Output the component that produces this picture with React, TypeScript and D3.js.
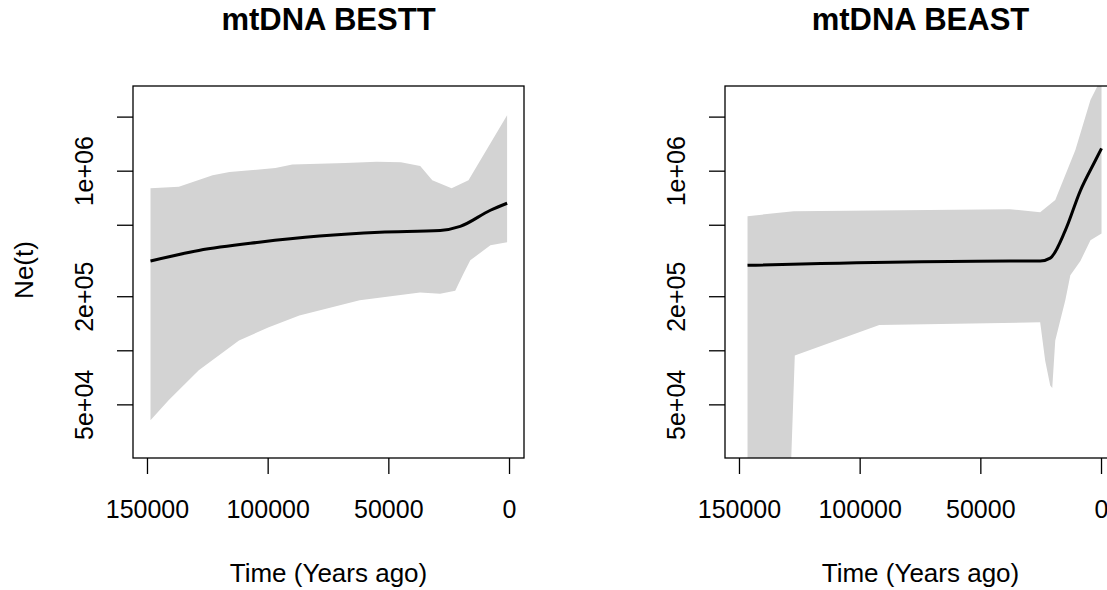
import * as d3 from 'd3'

// left panel (BESTT)
const leftUpT = [148750, 137000, 123000, 116000, 97000, 90000, 68000, 55000, 45000, 37000, 32000, 24000, 17000, 1000]
const leftUpV = [8.04e5, 8.2e5, 9.5e5, 9.9e5, 1.04e6, 1.09e6, 1.11e6, 1.13e6, 1.12e6, 1.07e6, 8.9e5, 8.04e5, 8.9e5, 2.05e6]
const leftLoT = [148750, 141250, 128750, 112083, 100000, 87083, 62083, 37083, 28750, 22500, 19000, 16250, 7917, 1000]
const leftLoV = [4.1e4, 5.3e4, 7.8e4, 1.14e5, 1.35e5, 1.57e5, 1.91e5, 2.11e5, 2.08e5, 2.16e5, 2.7e5, 3.19e5, 3.87e5, 4.02e5]
const leftMedT = [148750, 128750, 103750, 78750, 53750, 28750, 20417, 7917, 1000]
const leftMedV = [3.16e5, 3.62e5, 4.02e5, 4.35e5, 4.57e5, 4.68e5, 4.93e5, 6.06e5, 6.63e5]

// right panel (BEAST)
const rightUpT = [146667, 127500, 37917, 25417, 19167, 10833, 4583, 1667, 0]
const rightUpV = [5.62e5, 5.98e5, 6.14e5, 5.9e5, 6.9e5, 1.31e6, 2.49e6, 2.98e6, 3.5e6]
const rightLoT = [146667, 129583, 127083, 92083, 25417, 23333, 21250, 20417, 19167, 17083, 15000, 12917, 8750, 4583, 0]
const rightLoV = [1e4, 1e4, 9.4e4, 1.39e5, 1.44e5, 8.8e4, 6.4e4, 6.2e4, 1.14e5, 1.48e5, 1.91e5, 2.63e5, 3.16e5, 4.13e5, 4.5e5]
const rightMedT = [146667, 37917, 25417, 21250, 15000, 8750, 2500, 0]
const rightMedV = [2.99e5, 3.16e5, 3.16e5, 3.28e5, 4.68e5, 7.8e5, 1.15e6, 1.34e6]

const xTicks = [150000, 100000, 50000, 0]
const yTicks = [5e4, 1e5, 2e5, 5e5, 1e6, 2e6]
const yLabeled = [5e4, 2e5, 1e6]

const FONT = 'Liberation Sans, Arial, sans-serif'

interface PanelProps {
  title: string
  left: number
  upT: number[]; upV: number[]
  loT: number[]; loV: number[]
  medT: number[]; medV: number[]
  id: string
}

function Panel({ title, left, upT, upV, loT, loV, medT, medV, id }: PanelProps) {
  const top = 86, bottom = 458
  const width = 391
  const x = d3.scaleLinear().domain([156000, -6000]).range([left, left + width])
  const y = d3.scaleLog().domain([2.53e4, 2.98e6]).range([bottom, top])
  const upper = upT.map((t, i) => [x(t), y(upV[i])] as [number, number])
  const lower = loT.map((t, i) => [x(t), y(loV[i])] as [number, number])
  const poly = [...upper, ...lower.slice().reverse()]
  const med = d3.line<number>().x((t) => x(t)).y((_, i) => y(medV[i])).curve(d3.curveMonotoneX)(medT)
  const cx = left + width / 2
  return (
    <g>
      <clipPath id={id}>
        <rect x={left} y={top} width={width} height={bottom - top} />
      </clipPath>
      <text x={cx} y={30} textAnchor="middle" fontWeight="bold" fontSize={31}>{title}</text>
      <g clipPath={`url(#${id})`}>
        <path d={'M' + poly.map((p) => p.join(',')).join('L') + 'Z'} fill="#d3d3d3" />
        <path d={med || ''} fill="none" stroke="#000" strokeWidth={3} />
      </g>
      <rect x={left} y={top} width={width} height={bottom - top} fill="none" stroke="#000" strokeWidth={1.3} />
      {xTicks.map((t) => (
        <g key={t}>
          <line x1={x(t)} x2={x(t)} y1={bottom} y2={bottom + 16} stroke="#000" strokeWidth={1.3} />
          <text x={x(t)} y={518} textAnchor="middle" fontSize={25}>{t}</text>
        </g>
      ))}
      {yTicks.map((v) => (
        <g key={v}>
          <line x1={left} x2={left - 16} y1={y(v)} y2={y(v)} stroke="#000" strokeWidth={1.3} />
          {yLabeled.includes(v) && (
            <text transform={`translate(${left - 40},${y(v)}) rotate(-90)`} textAnchor="middle" fontSize={25}>
              {v.toExponential(0).replace(/e\+(\d)$/, 'e+0$1')}
            </text>
          )}
        </g>
      ))}
      <text x={cx} y={582} textAnchor="middle" fontSize={26}>Time (Years ago)</text>
    </g>
  )
}

export default function App() {
  return (
    <svg width={1107} height={590} style={{ position: 'absolute', left: 0, top: 0, background: '#fff' }} fontFamily={FONT}>
      <rect width={1107} height={590} fill="#fff" />
      <text transform="translate(33,270) rotate(-90)" textAnchor="middle" fontSize={26}>Ne(t)</text>
      <Panel id="c1" title="mtDNA BESTT" left={133} upT={leftUpT} upV={leftUpV} loT={leftLoT} loV={leftLoV} medT={leftMedT} medV={leftMedV} />
      <Panel id="c2" title="mtDNA BEAST" left={725} upT={rightUpT} upV={rightUpV} loT={rightLoT} loV={rightLoV} medT={rightMedT} medV={rightMedV} />
    </svg>
  )
}
